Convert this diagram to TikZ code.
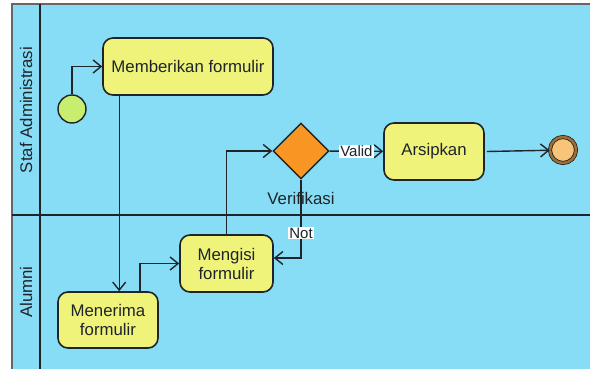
\documentclass[tikz,border=0pt]{standalone}
\usepackage{fontspec}
\setmainfont{Liberation Sans}
\usetikzlibrary{arrows.meta,shapes.geometric}

\definecolor{laneblue}{RGB}{135,221,245}
\definecolor{actyellow}{RGB}{240,243,122}
\definecolor{startgreen}{RGB}{200,238,112}
\definecolor{decorange}{RGB}{247,150,34}
\definecolor{endorange}{RGB}{247,196,122}
\definecolor{endbrown}{RGB}{160,110,50}
\definecolor{linec}{RGB}{30,36,42}

\begin{document}
\begin{tikzpicture}[->,>={Straight Barb[length=8pt,width=13pt]},x=1pt,y=-1pt,
  line width=1.4pt,color=linec,font=\fontsize{16.8}{19}\selectfont,
  act node/.style={rectangle,rounded corners=10pt,draw=linec,line width=1.6pt,fill=actyellow,align=center,inner sep=2pt},
  start node/.style={circle,draw=linec,fill=startgreen,minimum size=28pt,inner sep=0pt},
  dec node/.style={diamond,draw=linec,fill=decorange,minimum width=56pt,minimum height=56pt,inner sep=0pt},
  end node/.style={circle,draw=linec,line width=0.8pt,double=endbrown,double distance=2.5pt,fill=endorange,minimum size=26pt,inner sep=0pt},
  lbl/.style={fill=white,inner sep=1pt,font=\fontsize{15}{17}\selectfont}]

  \useasboundingbox (0,0) rectangle (590,369);
  \fill[white] (0,0) rectangle (590,369);
  \fill[laneblue] (12,4) rectangle (590,369);
  % lanes
  \draw[-,black!60] (12,369) -- (12,4) -- (590,4);
  \draw[-] (40,4) -- (40,369);
  \draw[-] (12,215) -- (590,215);
  \node[rotate=90] (lane1) at (26,110) {Staf Administrasi};
  \node[rotate=90] (lane2) at (26,292) {Alumni};

  \node[start node] (start) at (72,109) {};
  \node[act node,minimum width=170pt,minimum height=57pt] (give) at (188,66.5) {Memberikan formulir};
  \node[act node,minimum width=100pt,minimum height=56pt] (receive) at (108,320) {Menerima\\formulir};
  \node[act node,minimum width=93pt,minimum height=57pt] (fillin) at (226.5,263.5) {Mengisi\\formulir};
  \node[dec node] (check) at (301,151) {};
  \node (checklbl) [below of=check,node distance=47pt] {Verifikasi};
  \node[act node,minimum width=100pt,minimum height=57pt] (arch) at (434,151.5) {Arsipkan};
  \node[end node] (finish) at (563,150) {};

  \draw (start) |- (give);
  \draw ([xshift=17pt]give.south west) coordinate (gs) -- (gs |- receive.north);
  \draw ([xshift=-19pt]receive.north east) |- (fillin.west);
  \draw (fillin.north) |- (check.west);
  \draw (check.south) |- node[lbl,pos=0.34] {Not} ([yshift=5.5pt]fillin.east);
  \draw (check) -- node[lbl] {Valid} (arch);
  \draw ([xshift=2pt]arch.east) -- (finish);
\end{tikzpicture}
\end{document}
